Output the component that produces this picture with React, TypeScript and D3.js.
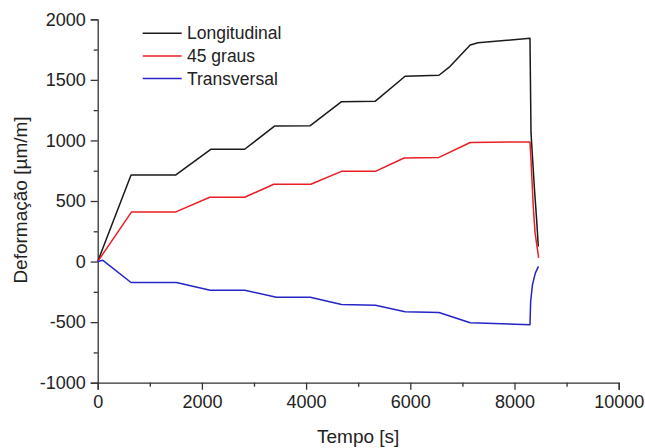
import { useEffect, useRef } from 'react';
import * as d3 from 'd3';

// Longitudinal strain gauge
const longTime = [0, 640, 1500, 2170, 2820, 3400, 4080, 4680, 5330, 5900, 6550, 6760, 7150, 7300, 8297, 8317, 8380, 8425, 8457];
const longStrain = [0, 715, 715, 927, 927, 1120, 1122, 1320, 1324, 1530, 1538, 1610, 1788, 1807, 1843, 1060, 619, 344, 124];

// 45 degree gauge
const diagTime = [0, 650, 1500, 2150, 2820, 3380, 4090, 4680, 5330, 5880, 6550, 7150, 8297, 8317, 8360, 8395, 8464];
const diagStrain = [0, 410, 410, 531, 531, 638, 638, 745, 745, 855, 860, 983, 988, 839, 454, 237, 30];

// Transversal gauge
const transTime = [0, 100, 640, 1510, 2160, 2820, 3430, 4080, 4680, 5330, 5900, 6550, 7150, 8297, 8310, 8345, 8400, 8460];
const transStrain = [0, 10, -173, -173, -236, -236, -294, -294, -355, -360, -415, -420, -505, -522, -330, -190, -95, -40];

const seriesNames = ['Longitudinal', '45 graus', 'Transversal'];
const seriesColors = ['#1a1a1a', '#ea1f25', '#2424c8'];

const xMajor = [0, 2000, 4000, 6000, 8000, 10000];
const yMajor = [-1000, -500, 0, 500, 1000, 1500, 2000];

const App = () => {
  const svgRef = useRef(null);

  useEffect(() => {
    const svg = d3.select(svgRef.current);
    svg.selectAll('*').remove();

    const x = d3.scaleLinear().domain([0, 10000]).range([97.7, 618.7]);
    const y = d3.scaleLinear().domain([-1000, 2000]).range([382.7, 19.3]);
    const font = 'Arial, "Liberation Sans", sans-serif';
    const fmt = d => String(d); // plain hyphen for negatives, like the original

    // x axis
    const xAxis = svg.append('g')
      .attr('transform', `translate(0,${y(-1000)})`)
      .call(d3.axisBottom(x).tickValues(xMajor).tickSize(7).tickPadding(6).tickFormat(fmt));
    xAxis.selectAll('.tick text').style('font-size', '18px').style('font-family', font).attr('fill', '#222');
    svg.append('g')
      .attr('transform', `translate(0,${y(-1000)})`)
      .call(d3.axisBottom(x).tickValues(d3.range(1000, 10000, 2000)).tickSize(4).tickFormat(() => ''))
      .select('.domain').remove();

    // y axis
    const yAxis = svg.append('g')
      .attr('transform', `translate(${x(0)},0)`)
      .call(d3.axisLeft(y).tickValues(yMajor).tickSize(7).tickPadding(5).tickFormat(fmt));
    yAxis.selectAll('.tick text').style('font-size', '18px').style('font-family', font).attr('fill', '#222');
    svg.append('g')
      .attr('transform', `translate(${x(0)},0)`)
      .call(d3.axisLeft(y).tickValues(d3.range(-750, 2000, 500)).tickSize(4).tickFormat(() => ''))
      .select('.domain').remove();

    svg.selectAll('.domain, .tick line').attr('stroke', '#333').attr('stroke-width', 1.3);

    // lines
    const line = d3.line().x(d => x(d[0])).y(d => y(d[1]));
    const data = [
      longTime.map((t, i) => [t, longStrain[i]]),
      diagTime.map((t, i) => [t, diagStrain[i]]),
      transTime.map((t, i) => [t, transStrain[i]]),
    ];
    data.forEach((pts, i) => {
      svg.append('path')
        .attr('d', line(pts))
        .attr('fill', 'none')
        .attr('stroke', seriesColors[i])
        .attr('stroke-width', 1.5)
        .attr('stroke-linejoin', 'round');
    });

    // legend
    seriesNames.forEach((name, i) => {
      const ly = 33.3 + i * 22.6;
      svg.append('line')
        .attr('x1', 142.7).attr('x2', 181.7)
        .attr('y1', ly).attr('y2', ly)
        .attr('stroke', seriesColors[i]).attr('stroke-width', 1.5);
      svg.append('text')
        .attr('x', 187).attr('y', ly)
        .attr('dy', '0.35em')
        .style('font-size', '17.5px').style('font-family', font)
        .attr('fill', '#222')
        .text(name);
    });

    // axis titles
    svg.append('text')
      .attr('x', x(5000)).attr('y', 443)
      .attr('text-anchor', 'middle')
      .style('font-size', '19px').style('font-family', font)
      .attr('fill', '#222')
      .text('Tempo [s]');
    svg.append('text')
      .attr('transform', `translate(27,${y(500) - 1}) rotate(-90)`)
      .attr('text-anchor', 'middle')
      .style('font-size', '19px').style('font-family', font)
      .attr('fill', '#222')
      .text('Deformação [µm/m]');
  }, []);

  return (
    <svg ref={svgRef} width={645} height={448}
      style={{ position: 'absolute', left: 0, top: 0, background: '#fff' }} />
  );
};

export default App;
